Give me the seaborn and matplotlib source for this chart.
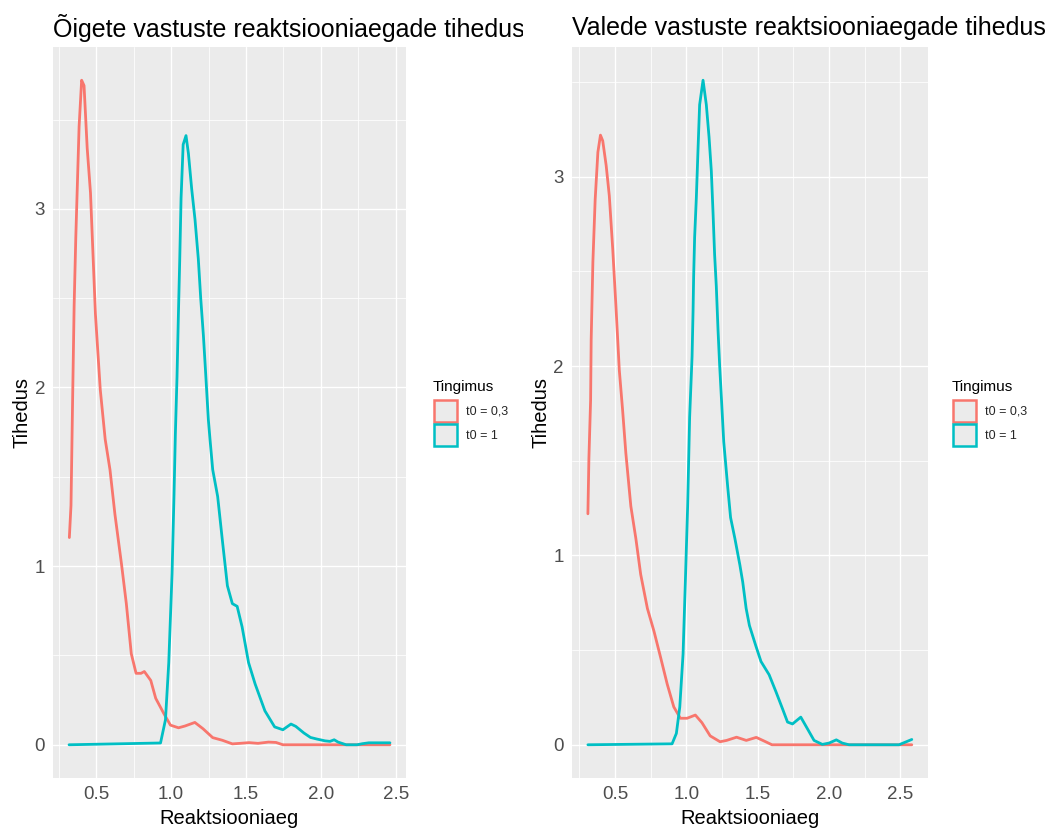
import numpy as np
import pandas as pd
import matplotlib
matplotlib.use("Agg")
import matplotlib.pyplot as plt
import seaborn as sns
from matplotlib.patches import Patch
from matplotlib.transforms import Bbox, TransformedBbox
from matplotlib.ticker import MultipleLocator, FormatStrFormatter

# ---------------- data ----------------
titles = ["Õigete vastuste reaktsiooniaegade tihedus",
          "Valede vastuste reaktsiooniaegade tihedus"]
conditions = ["t0 = 0,3", "t0 = 1"]
x_label = "Reaktsiooniaeg"
y_label = "Tihedus"
legend_title = "Tingimus"
x_ticks = [0.5, 1.0, 1.5, 2.0, 2.5]
y_ticks = [0, 1, 2, 3]

# left panel (correct answers)
L_red_x = [0.322, 0.333, 0.343, 0.354, 0.365, 0.387, 0.404, 0.42, 0.441, 0.463, 0.496, 0.528,
           0.561, 0.593, 0.626, 0.67, 0.702, 0.735, 0.767, 0.80, 0.822, 0.865, 0.898, 0.952,
           0.996, 1.05, 1.093, 1.159, 1.213, 1.278, 1.343, 1.409, 1.46, 1.52, 1.58, 1.65,
           1.70, 1.746, 2.0, 2.46]
L_red_y = [1.16, 1.34, 1.89, 2.46, 2.84, 3.46, 3.72, 3.69, 3.34, 3.09, 2.41, 1.99,
           1.71, 1.54, 1.29, 1.01, 0.79, 0.51, 0.40, 0.40, 0.41, 0.36, 0.26, 0.175,
           0.11, 0.095, 0.105, 0.125, 0.09, 0.04, 0.025, 0.005, 0.008, 0.012, 0.008, 0.015,
           0.013, 0.0, 0.0, 0.0]
L_cyan_x = [0.32, 0.93, 0.963, 0.985, 1.007, 1.02, 1.029, 1.04, 1.049, 1.058, 1.067, 1.081,
            1.10, 1.116, 1.138, 1.16, 1.182, 1.198, 1.216, 1.231, 1.249, 1.26, 1.278, 1.311,
            1.343, 1.376, 1.409, 1.441, 1.474, 1.517, 1.561, 1.626, 1.691, 1.746, 1.80, 1.832,
            1.886, 1.93, 1.973, 2.027, 2.06, 2.088, 2.114, 2.168, 2.24, 2.276, 2.319, 2.46]
L_cyan_y = [0.0, 0.01, 0.14, 0.46, 0.96, 1.40, 1.74, 2.06, 2.40, 2.71, 3.06, 3.36,
            3.41, 3.31, 3.11, 2.94, 2.72, 2.50, 2.29, 2.08, 1.82, 1.71, 1.54, 1.39,
            1.14, 0.89, 0.79, 0.775, 0.66, 0.46, 0.34, 0.19, 0.10, 0.084, 0.116, 0.103,
            0.066, 0.041, 0.032, 0.022, 0.019, 0.028, 0.015, 0.0, 0.0, 0.006, 0.011, 0.011]

# right panel (wrong answers)
R_red_x = [0.31, 0.317, 0.329, 0.333, 0.345, 0.361, 0.38, 0.398, 0.414, 0.438, 0.46, 0.484,
           0.507, 0.53, 0.553, 0.576, 0.611, 0.646, 0.68, 0.727, 0.773, 0.82, 0.866, 0.912,
           0.958, 1.005, 1.063, 1.109, 1.167, 1.236, 1.282, 1.352, 1.42, 1.49, 1.55, 1.60, 2.58]
R_red_y = [1.22, 1.51, 1.82, 2.14, 2.55, 2.88, 3.13, 3.22, 3.19, 3.06, 2.90, 2.62,
           2.31, 1.98, 1.77, 1.54, 1.26, 1.09, 0.90, 0.72, 0.60, 0.46, 0.32, 0.20,
           0.14, 0.14, 0.157, 0.117, 0.047, 0.016, 0.023, 0.04, 0.023, 0.039, 0.018, 0.0, 0.0]
R_cyan_x = [0.31, 0.90, 0.93, 0.954, 0.977, 0.993, 1.009, 1.023, 1.04, 1.047, 1.051, 1.058,
            1.07, 1.082, 1.093, 1.117, 1.14, 1.159, 1.175, 1.187, 1.198, 1.21, 1.222, 1.233,
            1.262, 1.29, 1.31, 1.34, 1.375, 1.395, 1.419, 1.442, 1.488, 1.523, 1.58, 1.628,
            1.674, 1.709, 1.744, 1.802, 1.849, 1.895, 1.953, 2.0, 2.051, 2.093, 2.14, 2.49,
            2.535, 2.58]
R_cyan_y = [0.0, 0.005, 0.06, 0.2, 0.48, 0.86, 1.26, 1.73, 2.05, 2.29, 2.47, 2.68,
            2.89, 3.15, 3.38, 3.51, 3.38, 3.21, 3.03, 2.81, 2.59, 2.42, 2.19, 2.01,
            1.60, 1.36, 1.20, 1.09, 0.95, 0.86, 0.72, 0.63, 0.52, 0.44, 0.37, 0.28,
            0.19, 0.12, 0.11, 0.146, 0.084, 0.023, 0.002, 0.009, 0.026, 0.009, 0.0, 0.0,
            0.014, 0.028]

colors = {"t0 = 0,3": "#F8766D", "t0 = 1": "#00BFC4"}


def make_df(rx, ry, cx, cy):
    return pd.concat([
        pd.DataFrame({"x": rx, "y": ry, "Tingimus": conditions[0]}),
        pd.DataFrame({"x": cx, "y": cy, "Tingimus": conditions[1]}),
    ], ignore_index=True)


dfs = [make_df(L_red_x, L_red_y, L_cyan_x, L_cyan_y),
       make_df(R_red_x, R_red_y, R_cyan_x, R_cyan_y)]

# ---------------- style ----------------
sns.set_theme(style="darkgrid")
plt.rcParams['font.family'] = ['Liberation Sans', 'DejaVu Sans']

W, H = 1045, 833
fig = plt.figure(figsize=(W / 100, H / 100), dpi=100)
fig.patch.set_facecolor("white")

panels = [(53, 47, 406, 778), (571.7, 47, 928, 778)]
title_x = [53, 571.7]
legend_x = [433, 952]
label_x_px = [22, 541]

for i, (l, t, r, b) in enumerate(panels):
    ax = fig.add_axes([l / W, 1 - b / H, (r - l) / W, (b - t) / H])
    df = dfs[i]
    sns.lineplot(data=df, x="x", y="y", hue="Tingimus", palette=colors,
                 hue_order=conditions, estimator=None, sort=False,
                 linewidth=2.0, legend=False, ax=ax)
    xmin, xmax = df["x"].min(), df["x"].max()
    ymin, ymax = 0.0, df["y"].max()
    xr, yr = xmax - xmin, ymax - ymin
    ax.set_xlim(xmin - 0.05 * xr, xmax + 0.05 * xr)
    ax.set_ylim(ymin - 0.05 * yr, ymax + 0.05 * yr)

    ax.set_facecolor("#EBEBEB")
    for s in ax.spines.values():
        s.set_visible(False)
    ax.set_xticks(x_ticks)
    ax.set_yticks(y_ticks)
    ax.xaxis.set_major_formatter(FormatStrFormatter("%.1f"))
    ax.xaxis.set_minor_locator(MultipleLocator(0.25))
    ax.yaxis.set_minor_locator(MultipleLocator(0.5))
    ax.grid(which="major", color="white", linewidth=1.0)
    ax.grid(which="minor", color="white", linewidth=0.55)
    ax.set_axisbelow(True)
    ax.tick_params(which="major", length=3.2, width=0.8, color="#333333",
                   labelcolor="#4D4D4D", labelsize=13.5, pad=2.5)
    ax.tick_params(which="minor", length=0)

    ax.set_xlabel(x_label, fontsize=14.5, color="black")
    ax.set_ylabel(y_label, fontsize=14.5, color="black")
    ax.xaxis.set_label_coords(0.5, (b - 818) / (b - t))
    ax.xaxis.label.set_va("center")
    ax.yaxis.set_label_coords((label_x_px[i] - l) / (r - l), 0.5)
    ax.yaxis.label.set_va("center")

    # title (clipped at the half of the figure like the original)
    txt = fig.text(title_x[i] / W, 1 - 28 / H, titles[i], fontsize=18,
                   ha="left", va="center", color="black")
    clip = TransformedBbox(Bbox([[i * 0.5, 0], [i * 0.5 + 0.5, 1]]), fig.transFigure)
    txt.set_clip_box(clip)
    txt.set_clip_on(True)

    # legend: title as text, keys as legend
    fig.text(legend_x[i] / W, 1 - 387 / H, legend_title, fontsize=11,
             ha="left", va="center", color="black")
    handles = [Patch(facecolor="#EBEBEB", edgecolor=colors[c], linewidth=1.8) for c in conditions]
    fig.legend(handles, conditions, loc="upper left",
               bbox_to_anchor=((legend_x[i] + 1) / W, 1 - 400 / H), frameon=False,
               fontsize=9, handlelength=1.84, handleheight=2.33,
               labelspacing=0.15, handletextpad=0.7, borderpad=0, borderaxespad=0)

fig.savefig("out.png", dpi=100, facecolor="white")
